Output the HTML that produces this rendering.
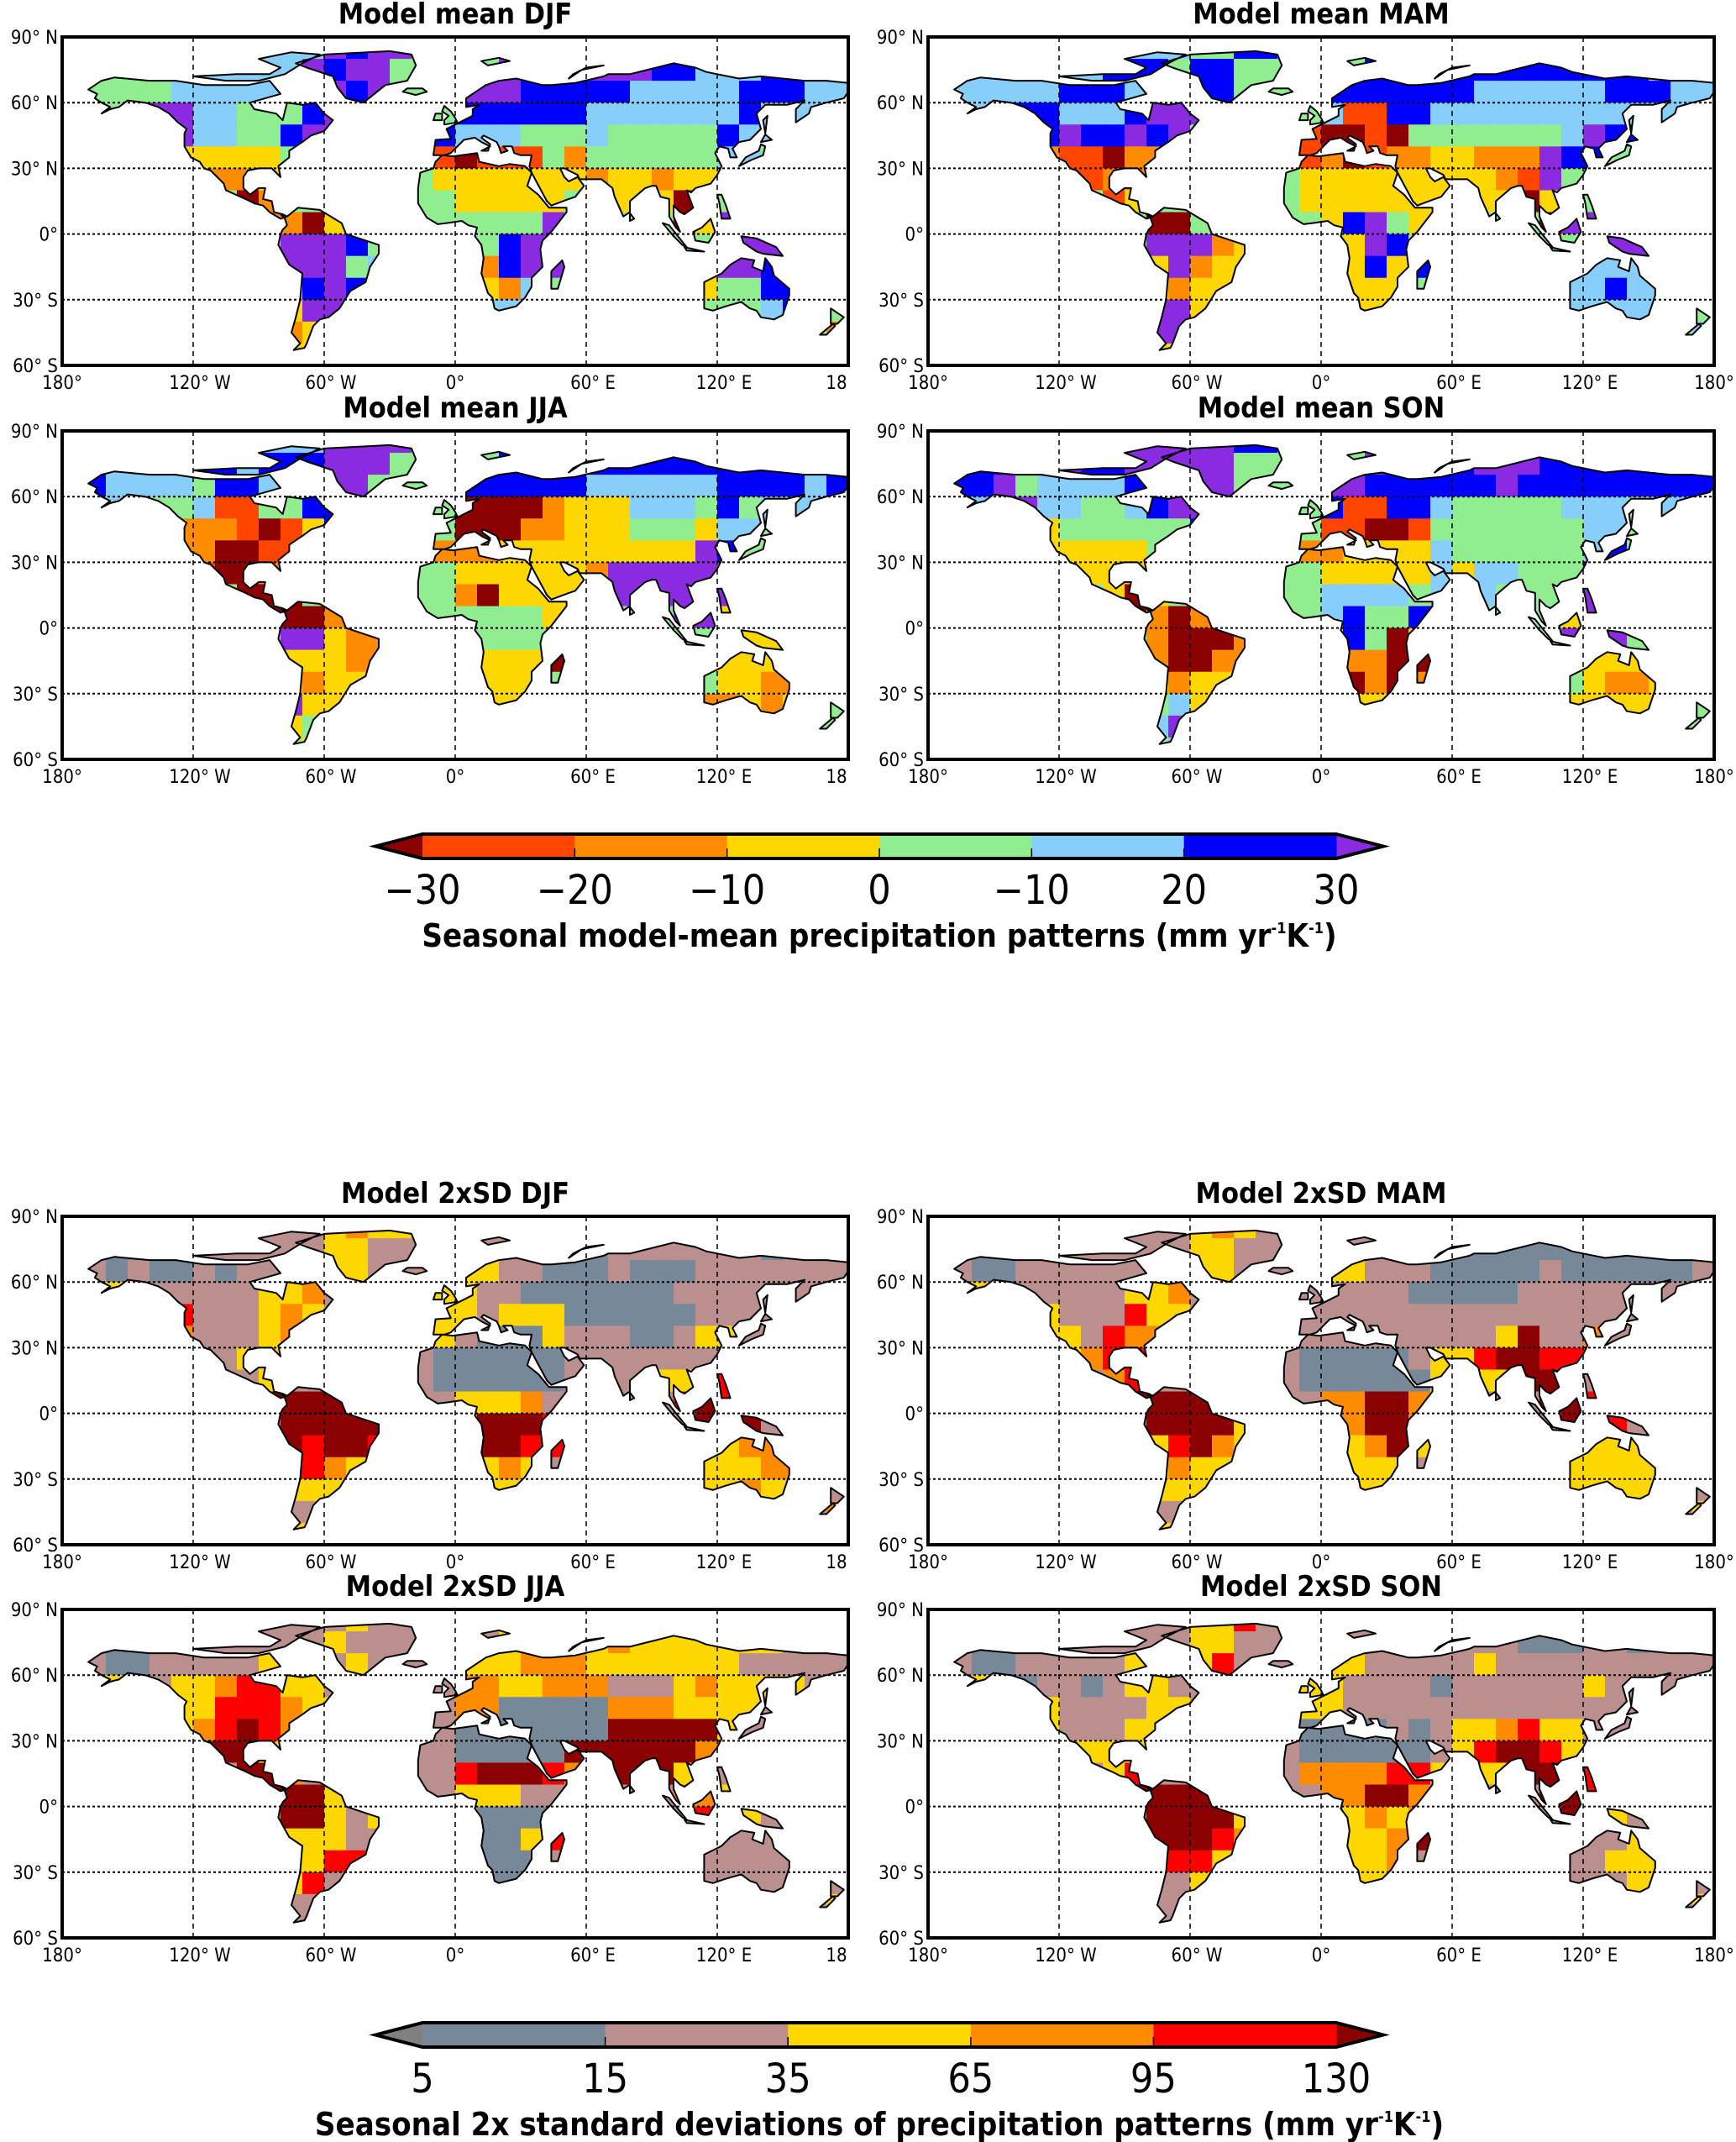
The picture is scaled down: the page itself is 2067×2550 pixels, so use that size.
<!DOCTYPE html>
<html><head><meta charset="utf-8">
<style>
html,body{margin:0;padding:0;background:#fff;}
svg{display:block;font-family:"DejaVu Sans Condensed","DejaVu Sans","Liberation Sans",sans-serif;}
</style></head>
<body>
<svg id="fig" width="2067" height="2550" viewBox="0 0 2067 2550" xmlns="http://www.w3.org/2000/svg"></svg>
<script>
// ---------- DATA: 10° grid classes per panel (rows 90N..60S, cols 180W..180E) ----------
const meanDJF=[".........cccpbpp","..gggccccccpbpp.....ppbbpppbbcccbbcc","gggggccccccppbp...pppbbbbbcccccbbbcc","..gpppccgggbppp...bbbbbbcccccccbcccc",".....pccggbpp....bcccgggcgggggbccccc",".....yyyyyg......rRrrrgoggggggcc....","......oooy.......yyyyyyyoyyoyy","........Ro.......gyyyyygyyyyRy",".........ooRyy....ggggpgy...Ryp","..........pppbg....gbpp.......ppp","..........pppgc....obpp......gppbb","..........ybpb.....yoc.......yggbb","..........ypp......cc........gggcb","..........oy.......................oc","..........yy"];
const meanMAM=[".........cccggbb","..ccccccbbbgbb......bbbbbbbbbbbbbcccc","ccccccbbbcbcbb....bbbbbbbccccccbbbcc","..cbbbcccbppp.....crrbbcccccccccccc",".....bpbbpbp.....rRRrRgggggggcpbbc",".....orrRooo.....roRrooyyooopbb","......rroo.......yyyyyyyyyorp","........ry.......yyyyyyyyyyRy",".........gRRgy....ybpgyy....Rpp","..........pppoy....ypbgp......ppp","..........ypoyy....ybyb......cccc","..........yoyy.....yyy.......ccbcc","..........ppy......yy........ccccc","..........pp.......................c","..........yy"];
const meanJJA=[".........cccpppp","..ccbbbbcbbbppp.....bbbbbbbbbbbbbbbbb","bbccccgbbcggpp....bbbbbbccccccbbbbcb","..cbggcrrggbbp....RRRRoyyycccgbgcccc",".....ooorRryb.....RRRooyyygggyccgcb",".....ooRRrr......oooyyyyyyyyypb","......rRRoo.......yyyyyyoppppp","........RRR.......oRyyyyypppppp",".........RRRoy...gggggyy....ppyy","..........ppyoo....ggggb......yyy","..........yyyoo....yyyR......yyyyy","..........yoyyy....yyy........yyooy","..........pyy......yy........ooyoy","..........yg........................p","..........gy"];
const meanSON=[".........pppppbb","..bbpppbbppppp......pppbbpppbbbbbbbb","pbbpgccccbpppp....ppbbbbbbpbbbbbbbbb","..cbpccggcbpp.....brrbbcgggggcccgcc",".....yggggggb.....rrRRrgggggggccgb",".....yyyyyg......ooyyyycggggggcb","......yyyyy.......yyyyycyccgggb","........yRy.......ccccgcgcgggbp",".........RoRoo....cbggbbc....ypp","..........oRRRo....bgRy......ppp","..........oRRoo....ooRRo.....yyyyy","..........yoyy.....RoRo.......yooyy","..........gcy......yy........yyyyy","..........cp........................p","..........gc"];
const sdDJF=[".........kkkyoyy","..sskskkkkkkyy......kkkkskkkkkkkskkk","yksksskskkkoyy....yykkssskssskkkkkk","..ykkkkkkyyo.....yykkssssssskkkkkk",".....rkkkyoy.....yykyyysssssskkk",".....okkkyo......yksssykkksskyy","......kkyy.......sssssskkkkkkkky","........ky.......sssssskkkkyyyr",".........RRRRr....yyyokk....rRr","..........RRRRR....RRRr......RRR","..........RrRRr....RRrr......yyooy","..........rroy.....yoy.......yyyoo","..........yyy......yy........yyoyy","..........kk.......................or","..........yy"];
const sdMAM=[".........kkkyoy","..sssskkkkkkyy......kkkkssssssssssss","yksskkkkkkkoyy....yykkkssssskssssss","..ykkkkkkyyo.....kkkkkssssskkkkkkk",".....ykkkryy.....kkkkkkkkkkkkkkkk",".....yykroo......kkkkkkkkkyRkko","......yorr.......ssssskyyrRRrrkk","........or.......ssssssyyyyRRr",".........RRRRy....ooRRoy....RRr","..........RRRRy....oRRo......RRr","..........yrRoy....yoRy......yyyyy","..........yoyy.....yyy.......yyyyy","..........yyy......yy........yyyyy","..........kk.......................yo","..........yy"];
const sdJJA=[".........kkkkyk","..sssskkkkkkyk......yyyyyoyyyyyyykkk","yksskkkkkyyyky....yyyoooyyyyyyykkkk","..ykkyyorryyk.....ooyyoookkkyoyyyy",".....yyrrroyy.....oosssssoooyyyykk",".....yorRro......ksssssssRRRRRy","......RRRyo.......sssssRRRRRRoo","........RRo.......rRRRroRRRRyr",".........RRRyy....yyykkk....ooy","..........RRyky....ssss......ryy","..........yyykk....ssyr......kkkkk","..........yyrr.....sss........kkkkk","..........yrk......ss........kkkkk","..........kk.......................yo","..........kk"];
const sdSON=[".........kkkyyr","..sskskkkkkkyy......kkkkkkkssskkskkk","kksskkkkkyyyyr....yykkkkkykkkkkkkkkk","..ykskkskyyk.....yykkkkskkkkkkykkk",".....ykkkkyy.....yykkkkkkkkkkkkkk",".....ykkkyy......sssskskyyoryy","......yyyy.......sssssskyrRRryy","........yr.......oooorryyyyRRrr",".........RRRRy....ooRRoo....RRr","..........RRRRy....yoyo......Rry","..........RRRro....yyoR......skky","..........rrry.....yyo.......kkyyy","..........kky......yy........kkkyy","..........kk.......................yo","..........kk"];
const meanBarLabels=["\u221230","\u221220","\u221210","0","\u221210","20","30"];
const sdBarLabels=["5","15","35","65","95","130"];
const latTicks=[90,60,30,0,-30,-60];
const lonTicks=[-180,-120,-60,0,60,120,180];

// ---------- geometry ----------
const W=936,H=391,NS="http://www.w3.org/2000/svg";
const px=lon=>(lon+180)/360*W, py=lat=>(90-lat)/150*H;
const meanPal={R:'#8b0000',r:'#ff4500',o:'#ff8c00',y:'#ffd700',g:'#90ee90',c:'#87cefa',b:'#0000ff',p:'#8a2be2'};
const sdPal={s:'#778899',k:'#bc8f8f',y:'#ffd700',o:'#ff8c00',r:'#ff0000',R:'#8b0000',g:'#808080'};
const land=[
[[-168,66],[-162,70],[-156,71.5],[-140,70],[-128,70],[-115,68],[-95,68],[-85,70],[-80,64],[-94,60],[-92,57],[-82,55],[-79,52],[-77,60],[-70,59],[-64,60],[-60,55],[-56,52],[-60,47],[-66,45],[-70,42],[-76,38],[-76,35],[-81,31],[-80,26],[-82,28],[-84,30],[-90,30],[-95,29],[-97,26],[-97,21],[-94,18],[-90,21],[-87,21],[-88,16],[-84,15],[-83,10],[-79,9],[-77,8],[-80,7],[-85,10],[-88,13],[-92,14],[-96,16],[-105,20],[-106,23],[-112,29],[-115,30],[-117,33],[-121,35],[-124,40],[-124,46],[-123,48],[-127,51],[-131,55],[-136,58],[-142,60],[-150,61],[-154,58],[-158,57],[-162,55],[-158,58],[-162,60],[-165,62],[-164,64]],
[[-120,72],[-100,73],[-85,73],[-80,76],[-90,80],[-75,83],[-62,82],[-70,78],[-78,73],[-90,70],[-105,70]],
[[-73,78],[-60,82],[-30,83.5],[-20,82],[-18,77],[-22,70],[-32,68],[-42,60],[-50,62],[-54,67],[-56,72],[-68,76]],
[[-80,9],[-77,8],[-72,12],[-62,11],[-52,5],[-50,0],[-44,-2],[-35,-5],[-35,-9],[-39,-15],[-41,-22],[-48,-26],[-53,-34],[-58,-38],[-62,-39],[-65,-42],[-68,-50],[-69,-52],[-74,-53],[-71,-50],[-75,-45],[-73,-38],[-71,-30],[-70,-18],[-76,-14],[-81,-5],[-80,0],[-79,2],[-77,4],[-78,7]],
[[-10,36],[-9,43],[-2,43.5],[-4,48],[2,51],[8,54],[8,57],[11,59],[5,58],[5,62],[14,68],[20,70],[28,71],[40,68],[44,68],[55,69],[68,72],[70,73],[80,73],[88,75],[100,78],[110,76],[115,74],[130,71],[140,72],[150,71],[160,70],[170,70],[180,69],[180,65],[178,62],[170,60],[163,58],[162,55],[156,51],[156,57],[160,61],[152,59],[142,59],[138,55],[140,48],[135,43],[130,42],[127,39],[129,35],[126,35],[125,39],[121,40],[119,37],[122,31],[120,27],[117,23],[110,21],[108,19],[106,20],[109,12],[105,9],[103,10],[100,13],[100,8],[103,1],[101,3],[98,8],[98,16],[94,17],[92,22],[90,22],[87,21],[80,15],[80,10],[77,8],[73,17],[72,21],[67,25],[62,25],[57,25],[56,27],[50,30],[48,30],[50,26],[52,24],[56,26],[59,22],[55,17],[52,16],[44,13],[42,15],[35,28],[34,31],[35,36],[30,36],[27,37],[26,40],[22,40],[24,38],[21,37],[20,40],[19,42],[13,45],[12,44],[16,41],[15,38],[12,38],[16,40],[12,42],[9,44],[4,43],[0,39],[-2,37],[-5,36]],
[[-5,50],[1,51],[0,53],[-2,56],[-5,58.5],[-6,56],[-3,54],[-5,52]],
[[-10,52],[-6,52],[-6,55],[-9,55]],
[[-24,65],[-22,66.5],[-15,66.5],[-13,65],[-18,63.5]],
[[-17,21],[-16,28],[-10,30],[-9,33],[-6,36],[-1,35.5],[10,37],[11,33],[20,31],[25,32],[32,31],[35,28],[33,22],[38,18],[43,12],[51,12],[51,10],[44,1],[40,-3],[39,-7],[40,-15],[35,-20],[35,-24],[32,-29],[28,-33],[20,-35],[18,-34],[17,-29],[15,-27],[12,-18],[13,-11],[12,-5],[9,-1],[10,3],[6,4],[3,6],[-4,5],[-8,4.5],[-13,7.5],[-17,14]],
[[44,-25],[47,-25],[50,-15],[49,-12],[44,-17]],
[[114,-22],[114,-34],[118,-35],[124,-33],[131,-31],[135,-34],[138,-35],[140,-38],[146,-39],[150,-37],[153,-28],[153,-25],[146,-19],[145,-15],[142,-11],[141,-17],[136,-15],[137,-12],[131,-11],[126,-14],[122,-18]],
[[109,1],[110,-3],[116,-4],[119,1],[117,7],[113,3]],
[[95,5],[98,4],[106,-6],[104,-5],[100,-1]],
[[105,-6],[114,-8],[106,-7.5]],
[[131,-1],[138,-2],[147,-6],[150,-10],[141,-9],[138,-8],[132,-4]],
[[130,31],[136,34],[141,36],[142,40],[140,41],[139,38],[133,35]],
[[140,42],[145,43],[142,45.5]],
[[172,-34],[178,-38],[175,-41],[172,-41]],
[[173,-41],[174,-42],[170,-46],[167,-46]],
[[120,18],[122,18],[124,13],[126,7],[122,7],[121,14]],
[[80,6],[82,7],[80,9.5]],
[[15,77],[25,79],[20,80.5],[12,79]],
[[52,71],[58,75],[68,77],[60,76],[54,73]],
[[142,46],[143,54],[141,52]]
];

const svg=document.getElementById('fig');
function el(tag,attrs,parent){const e=document.createElementNS(NS,tag);for(const k in attrs)e.setAttribute(k,attrs[k]);(parent||svg).appendChild(e);return e;}
function txt(s,attrs,parent){const t=el('text',attrs,parent);t.textContent=s;return t;}
const landD=land.map(p=>'M'+p.map(q=>px(q[0]).toFixed(1)+','+py(q[1]).toFixed(1)).join('L')+'Z').join('');

const panels=[
 {key:'mean-djf',title:'Model mean DJF',x:74,y:44,grid:meanDJF,pal:meanPal,def:'g',last:'18'},
 {key:'mean-mam',title:'Model mean MAM',x:1105,y:44,grid:meanMAM,pal:meanPal,def:'g',last:'180°'},
 {key:'mean-jja',title:'Model mean JJA',x:74,y:513,grid:meanJJA,pal:meanPal,def:'g',last:'18'},
 {key:'mean-son',title:'Model mean SON',x:1105,y:513,grid:meanSON,pal:meanPal,def:'g',last:'180°'},
 {key:'sd-djf',title:'Model 2xSD DJF',x:74,y:1448,grid:sdDJF,pal:sdPal,def:'k',last:'18'},
 {key:'sd-mam',title:'Model 2xSD MAM',x:1105,y:1448,grid:sdMAM,pal:sdPal,def:'k',last:'180°'},
 {key:'sd-jja',title:'Model 2xSD JJA',x:74,y:1916,grid:sdJJA,pal:sdPal,def:'k',last:'18'},
 {key:'sd-son',title:'Model 2xSD SON',x:1105,y:1916,grid:sdSON,pal:sdPal,def:'k',last:'180°'}
];
const lonLab=l=>l===0?'0°':(l===-180||l===180)?'180°':Math.abs(l)+'°  '+(l<0?'W':'E');
const latLab=l=>l===0?'0°':Math.abs(l)+'°  '+(l<0?'S':'N');

panels.forEach((P,pi)=>{
  const g=el('g',{transform:`translate(${P.x},${P.y})`});
  
  
  const t=txt(P.title,{x:W/2,y:-16,'text-anchor':'middle','font-size':34,'font-weight':'bold'},g);
  
  
  const cp=el('clipPath',{id:'clip'+pi},g);
  el('path',{d:landD},cp);
  const cells=el('g',{'clip-path':`url(#clip${pi})`},g);
  
  
  for(let r=0;r<15;r++){
    const row=(P.grid[r]||'');
    for(let c=0;c<36;c++){
      let ch=row[c]||'.'; if(ch==='.')ch=P.def;
      const lon=-180+10*c, lat=90-10*r;
      el('rect',{x:px(lon),y:py(lat),width:px(lon+10)-px(lon)+0.5,height:py(lat-10)-py(lat)+0.5,fill:P.pal[ch]},cells);
    }
  }
  const coast=el('path',{d:landD,fill:'none',stroke:'#000','stroke-width':2,'stroke-linejoin':'round'},g);
  
  
  latTicks.forEach(l=>{
    if(l!==90&&l!==-60) el('line',{x1:0,x2:W,y1:py(l),y2:py(l),stroke:'#000','stroke-width':2,'stroke-dasharray':'3,3'},g);
    const lt=txt(latLab(l),{x:-5,y:py(l)+8,'text-anchor':'end','font-size':22},g);
    
    
  });
  lonTicks.forEach((l,i)=>{
    if(l>-180&&l<180) el('line',{x1:px(l),x2:px(l),y1:0,y2:H,stroke:'#000','stroke-width':1.5,'stroke-dasharray':'6,5'},g);
    const s=(l===180)?P.last:lonLab(l);
    const ax=(l===180&&P.last==='18')?px(l)-14:px(l)+(l!==0&&Math.abs(l)!==180?8:0);
    const lt=txt(s,{x:ax,y:H+28,'text-anchor':'middle','font-size':22},g);
    
    
  });
  el('rect',{x:0,y:0,width:W,height:H,fill:'none',stroke:'#000','stroke-width':4},g);
});

// ---------- colorbars ----------
function colorbar(key,y0,cols,under,over,labels,title){
  const g=el('g',{});
  
  
  const x0=503,x1=1591,h=29,tip=56;
  const n=cols.length,sw=(x1-x0)/n;
  el('polygon',{points:`${x0},${y0} ${x0-tip},${y0+h/2} ${x0},${y0+h}`,fill:under},g);
  el('polygon',{points:`${x1},${y0} ${x1+tip},${y0+h/2} ${x1},${y0+h}`,fill:over},g);
  cols.forEach((c,i)=>el('rect',{x:x0+i*sw,y:y0,width:sw+0.5,height:h,fill:c},g));
  for(let i=1;i<n;i++) el('line',{x1:x0+i*sw,x2:x0+i*sw,y1:y0+h-12,y2:y0+h,stroke:'#000','stroke-width':1.5},g);
  el('polygon',{points:`${x0-tip},${y0+h/2} ${x0},${y0} ${x1},${y0} ${x1+tip},${y0+h/2} ${x1},${y0+h} ${x0},${y0+h}`,fill:'none',stroke:'#000','stroke-width':4},g);
  const step=(x1-x0)/(labels.length-1);
  labels.forEach((s,i)=>{
    const t=txt(s,{x:x0+i*step,y:y0+h+54,'text-anchor':'middle','font-size':48},g);
    
    
  });
  const tt=txt('',{x:1047,y:y0+h+105,'text-anchor':'middle','font-size':38,'font-weight':'bold'},g);
  tt.innerHTML=title;
  
  
}
colorbar('mean',993,['#ff4500','#ff8c00','#ffd700','#90ee90','#87cefa','#0000ff'],'#8b0000','#8a2be2',meanBarLabels,
 'Seasonal model-mean precipitation patterns (mm yr<tspan dy="-16" font-size="18">-1</tspan><tspan dy="16">K</tspan><tspan dy="-16" font-size="18">-1</tspan><tspan dy="16">)</tspan>');
colorbar('sd',2408,['#778899','#bc8f8f','#ffd700','#ff8c00','#ff0000'],'#808080','#8b0000',sdBarLabels,
 'Seasonal 2x standard deviations of precipitation patterns (mm yr<tspan dy="-16" font-size="18">-1</tspan><tspan dy="16">K</tspan><tspan dy="-16" font-size="18">-1</tspan><tspan dy="16">)</tspan>');
</script>
</body></html>
